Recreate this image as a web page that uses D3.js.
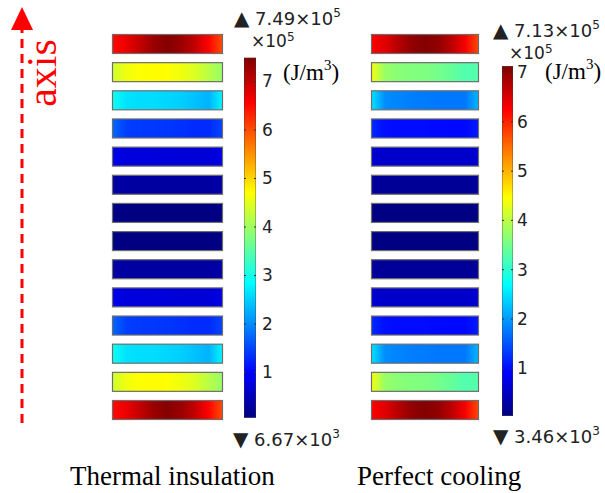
<!DOCTYPE html>
<html><head><meta charset="utf-8">
<script src="https://cdn.jsdelivr.net/npm/d3@7"></script>
<style>html,body{margin:0;padding:0;background:#fff;} svg{display:block;}</style>
</head><body>
<svg id="chart" width="605" height="493"></svg>
<script>
// ---- data (values in units of 1e5 J/m^3), 9 samples across each bar ----
const rowIndex = d3.range(14);
const insulationBars = [
  [6.5, 6.7, 7.0, 7.3, 7.45, 7.3, 7.0, 6.55, 6.0],
  [4.35, 4.6, 4.7, 4.72, 4.7, 4.6, 4.45, 4.2, 3.95],
  [2.95, 2.65, 2.6, 2.6, 2.55, 2.5, 2.4, 2.3, 2.8],
  [1.75, 1.45, 1.4, 1.4, 1.38, 1.35, 1.3, 1.3, 1.5],
  [0.85, 0.75, 0.74, 0.74, 0.72, 0.7, 0.7, 0.7, 0.8],
  [0.35, 0.3, 0.3, 0.3, 0.3, 0.3, 0.3, 0.3, 0.35],
  [0.12, 0.08, 0.08, 0.08, 0.08, 0.08, 0.08, 0.08, 0.1],
  [0.12, 0.08, 0.08, 0.08, 0.08, 0.08, 0.08, 0.08, 0.1],
  [0.35, 0.3, 0.3, 0.3, 0.3, 0.3, 0.3, 0.3, 0.35],
  [0.85, 0.75, 0.74, 0.74, 0.72, 0.7, 0.7, 0.7, 0.8],
  [1.75, 1.45, 1.4, 1.4, 1.38, 1.35, 1.3, 1.3, 1.5],
  [2.95, 2.65, 2.6, 2.6, 2.55, 2.5, 2.4, 2.3, 2.8],
  [4.35, 4.6, 4.7, 4.72, 4.7, 4.6, 4.45, 4.2, 3.95],
  [6.5, 6.7, 7.0, 7.3, 7.45, 7.3, 7.0, 6.55, 6.0]
];
const coolingBars = [
  [6.25, 6.45, 6.75, 7.0, 7.1, 7.0, 6.7, 6.3, 5.75],
  [4.4, 3.75, 3.65, 3.6, 3.58, 3.5, 3.4, 3.25, 3.3],
  [2.5, 1.9, 1.85, 1.8, 1.78, 1.75, 1.75, 1.75, 2.2],
  [1.2, 1.02, 1.0, 1.0, 1.0, 0.98, 0.97, 0.97, 1.1],
  [0.6, 0.55, 0.55, 0.55, 0.55, 0.55, 0.55, 0.55, 0.6],
  [0.22, 0.2, 0.2, 0.2, 0.2, 0.2, 0.2, 0.2, 0.22],
  [0.06, 0.05, 0.05, 0.05, 0.05, 0.05, 0.05, 0.05, 0.06],
  [0.06, 0.05, 0.05, 0.05, 0.05, 0.05, 0.05, 0.05, 0.06],
  [0.22, 0.2, 0.2, 0.2, 0.2, 0.2, 0.2, 0.2, 0.22],
  [0.6, 0.55, 0.55, 0.55, 0.55, 0.55, 0.55, 0.55, 0.6],
  [1.2, 1.02, 1.0, 1.0, 1.0, 0.98, 0.97, 0.97, 1.1],
  [2.5, 1.9, 1.85, 1.8, 1.78, 1.75, 1.75, 1.75, 2.2],
  [4.4, 3.75, 3.65, 3.6, 3.58, 3.5, 3.4, 3.25, 3.3],
  [6.25, 6.45, 6.75, 7.0, 7.1, 7.0, 6.7, 6.3, 5.75]
];
const insulationRange = [0.0667, 7.49];
const coolingRange = [0.0346, 7.13];
const colorbarTicks = [1, 2, 3, 4, 5, 6, 7];
const panelTitles = ["Thermal insulation", "Perfect cooling"];
const maxLabels = ["7.49", "7.13"];
const minLabels = ["6.67", "3.46"];
const unitLabel = "(J/m";
const axisLabel = "axis";

// ---- jet colormap ----
const clamp = v => Math.max(0, Math.min(1, v));
function jet(t) {
  const r = clamp(1.5 - Math.abs(4 * t - 3));
  const g = clamp(1.5 - Math.abs(4 * t - 2));
  const b = clamp(1.5 - Math.abs(4 * t - 1));
  return d3.rgb(r * 255, g * 255, b * 255).formatHex();
}

const svg = d3.select("#chart");
const defs = svg.append("defs");

const panels = [
  {key: "ins", bars: insulationBars, range: insulationRange, x0: 112, x1: 223,
   cbX: 244, cbW: 12, cbZeroY: 421, cbUnit: 48.5, labelX: 262,
   maxX: 234, maxY: 25, expX: 251, expY: 47, unitX: 283, unitY: 80,
   minX: 233, minY: 446, titleX: 70, max: maxLabels[0], min: minLabels[0], title: panelTitles[0]},
  {key: "cool", bars: coolingBars, range: coolingRange, x0: 371, x1: 479,
   cbX: 502, cbW: 11, cbZeroY: 417.6, cbUnit: 49.3, labelX: 517,
   maxX: 493, maxY: 37, expX: 509, expY: 59, unitX: 545, unitY: 79,
   minX: 493, minY: 443, titleX: 357, max: maxLabels[1], min: minLabels[1], title: panelTitles[1]}
];

const yRow = d3.scaleLinear().domain([0, 13]).range([34, 400]);
const barH = 19;

panels.forEach(p => {
  const tScale = d3.scaleLinear().domain(p.range).range([0, 1]).clamp(true);
  const xs = d3.scaleLinear().domain([0, 8]).range([0, 100]);
  p.bars.forEach((vals, i) => {
    const g = defs.append("linearGradient").attr("id", `${p.key}-bar-${i}`)
      .attr("x1", "0%").attr("x2", "100%").attr("y1", "0%").attr("y2", "0%");
    vals.forEach((v, j) => g.append("stop").attr("offset", xs(j) + "%").attr("stop-color", jet(tScale(v))));
  });
  const gBars = svg.append("g");
  gBars.selectAll("rect").data(rowIndex).join("rect")
    .attr("x", p.x0 + 0.5).attr("y", i => yRow(i) + 0.5)
    .attr("width", p.x1 - p.x0 - 1).attr("height", barH)
    .attr("fill", i => `url(#${p.key}-bar-${i})`)
    .attr("stroke", "#6e6e6e").attr("stroke-width", 1.2);

  // colorbar
  const yc = d3.scaleLinear().domain([0, 1]).range([p.cbZeroY, p.cbZeroY - p.cbUnit]);
  const cg = defs.append("linearGradient").attr("id", `${p.key}-cb`)
    .attr("x1", "0%").attr("x2", "0%").attr("y1", "100%").attr("y2", "0%");
  d3.range(0, 1.0001, 0.125).forEach(t => cg.append("stop").attr("offset", (t * 100) + "%").attr("stop-color", jet(t)));
  const top = yc(p.range[1]), bot = yc(p.range[0]);
  svg.append("rect").attr("x", p.cbX).attr("y", top).attr("width", p.cbW).attr("height", bot - top)
    .attr("fill", `url(#${p.key}-cb)`);
  svg.append("rect").attr("x", p.cbX + 0.5).attr("y", top + 0.5).attr("width", p.cbW - 1).attr("height", bot - top - 1)
    .attr("fill", "none").attr("stroke", "rgba(60,60,60,0.35)").attr("stroke-width", 1);
  const ax = d3.axisRight(yc).tickValues(colorbarTicks).tickSize(0).tickPadding(0).tickFormat(d3.format("d"));
  const axG = svg.append("g").attr("transform", `translate(${p.labelX},0)`).call(ax);
  axG.select(".domain").remove();
  axG.selectAll("text").attr("font-family", "DejaVu Sans").attr("font-size", 17).attr("fill", "#222").attr("dx", 0);
  svg.append("g").selectAll("line").data(colorbarTicks).join("line")
    .attr("x1", p.cbX).attr("x2", p.cbX + 2).attr("y1", d => yc(d)).attr("y2", d => yc(d))
    .attr("stroke", "#333").attr("stroke-width", 1);
  svg.append("g").selectAll("line").data(colorbarTicks).join("line")
    .attr("x1", p.cbX + p.cbW - 2).attr("x2", p.cbX + p.cbW).attr("y1", d => yc(d)).attr("y2", d => yc(d))
    .attr("stroke", "#333").attr("stroke-width", 1);

  // max / min labels
  const mt = svg.append("text").attr("x", p.maxX).attr("y", p.maxY)
    .attr("font-family", "DejaVu Sans").attr("font-size", 18).attr("fill", "#222");
  mt.append("tspan").attr("font-size", 20).text("\u25B2");
  mt.append("tspan").text(" " + p.max + "\u00D710");
  mt.append("tspan").attr("font-size", 12).attr("dy", -8).text("5");
  const et = svg.append("text").attr("x", p.expX).attr("y", p.expY)
    .attr("font-family", "DejaVu Sans").attr("font-size", 17).attr("fill", "#222");
  et.append("tspan").text("\u00D710");
  et.append("tspan").attr("font-size", 12).attr("dy", -6).text("5");
  const nt = svg.append("text").attr("x", p.minX).attr("y", p.minY)
    .attr("font-family", "DejaVu Sans").attr("font-size", 18).attr("fill", "#222");
  nt.append("tspan").attr("font-size", 20).text("\u25BC");
  nt.append("tspan").text(" " + p.min + "\u00D710");
  nt.append("tspan").attr("font-size", 12).attr("dy", -8).text("3");
  const ut = svg.append("text").attr("x", p.unitX).attr("y", p.unitY)
    .attr("font-family", "Liberation Serif").attr("font-size", 23).attr("fill", "#000");
  ut.append("tspan").text(unitLabel);
  ut.append("tspan").attr("font-size", 15).attr("dy", -10).text("3");
  ut.append("tspan").attr("dy", 10).text(")");

  svg.append("text").attr("x", p.titleX).attr("y", 485)
    .attr("font-family", "Liberation Serif").attr("font-size", 27).attr("fill", "#000").text(p.title);
});

// axis arrow
svg.append("line").attr("x1", 22).attr("x2", 22).attr("y1", 423).attr("y2", 30)
  .attr("stroke", "#ff0000").attr("stroke-width", 3).attr("stroke-dasharray", "9,6");
svg.append("path").attr("d", "M22,7 L11,30 L33,30 Z").attr("fill", "#ff0000");
svg.append("text").attr("transform", "translate(56,73) rotate(-90)")
  .attr("text-anchor", "middle").attr("font-family", "Liberation Serif").attr("font-size", 42)
  .attr("fill", "#ff0000").text(axisLabel);
</script>
</body></html>
